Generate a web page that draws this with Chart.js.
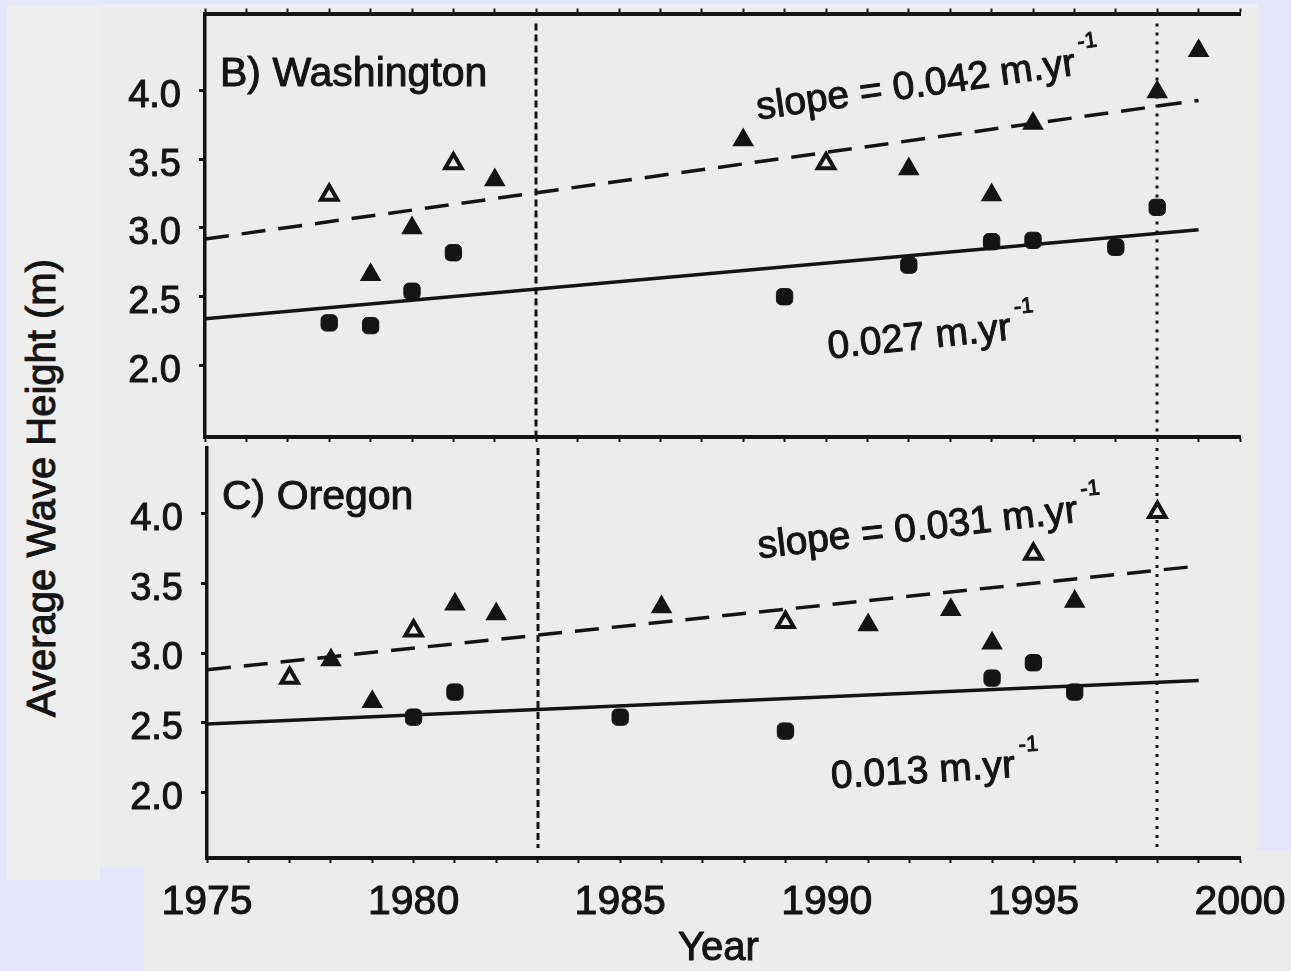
<!DOCTYPE html>
<html>
<head>
<meta charset="utf-8">
<title>Average Wave Height – Washington and Oregon</title>
<script src="https://cdn.jsdelivr.net/npm/chart.js@4.4.1/dist/chart.umd.min.js"></script>
<style>
  html, body { margin: 0; padding: 0; }
  body { width: 1291px; height: 971px; position: relative; overflow: hidden; background: #e6e6fa; }
  .sheet { position: absolute; background: #ececec; }
  .stage { position: absolute; left: 0; top: 0; }
  #ytitle {
    position: absolute; left: 41px; top: 488px;
    transform: translate(-50%, -50%) rotate(-90deg);
    font: 40px "Liberation Sans", Arial, Helvetica, sans-serif;
    -webkit-text-stroke: 1px #141414;
    color: #141414; white-space: nowrap;
  }
</style>
</head>
<body>
<div class="sheet" style="left:7px;top:5px;width:93px;height:875px;background:#eeeeee"></div>
<div class="sheet" style="left:100px;top:4px;width:1158px;height:863px"></div>
<div class="sheet" style="left:144px;top:850px;width:1147px;height:121px"></div>
<div id="ytitle">Average Wave Height (m)</div>
<canvas id="washington" class="stage" width="1291" height="971"></canvas>
<canvas id="oregon" class="stage" width="1291" height="971"></canvas>
<script>
// ---- shared axes ----
const yearTicks = [1975, 1980, 1985, 1990, 1995, 2000];
const heightTicks = [2.0, 2.5, 3.0, 3.5, 4.0];
const refYears = [1983, 1998];
const trendYears = [1975, 1999];

// ---- B) Washington ----
const waFilledYears   = [1979, 1980, 1982, 1988, 1992, 1994, 1995, 1998, 1999];
const waFilledHeights = [2.66, 3.00, 3.35, 3.64, 3.43, 3.24, 3.76, 3.99, 4.29];
const waOpenYears     = [1978, 1981, 1990];
const waOpenHeights   = [3.24, 3.47, 3.47];
const waSquareYears   = [1978, 1979, 1980, 1981, 1989, 1992, 1994, 1995, 1997, 1998];
const waSquareHeights = [2.31, 2.29, 2.54, 2.82, 2.50, 2.73, 2.90, 2.91, 2.86, 3.15];
const waUpperStart = 2.92, waUpperSlope = 0.042;
const waLowerStart = 2.34, waLowerSlope = 0.027;
const waNoteYears   = [1988.36, 1990.07];
const waNoteHeights = [3.79, 2.05];

// ---- C) Oregon ----
const orFilledYears   = [1978, 1979, 1981, 1982, 1986, 1991, 1993, 1994, 1996];
const orFilledHeights = [2.95, 2.65, 3.35, 3.28, 3.33, 3.20, 3.31, 3.07, 3.37];
const orOpenYears     = [1977, 1980, 1989, 1995, 1998];
const orOpenHeights   = [2.82, 3.16, 3.22, 3.71, 4.01];
const orSquareYears   = [1980, 1981, 1985, 1989, 1994, 1995, 1996];
const orSquareHeights = [2.54, 2.72, 2.54, 2.44, 2.82, 2.93, 2.72];
const orUpperStart = 2.88, orUpperSlope = 0.031;
const orLowerStart = 2.49, orLowerSlope = 0.013;
const orNoteYears   = [1988.36, 1990.12];
const orNoteHeights = [3.68, 2.03];

// ---- drawing helpers ----
const INK = '#141414';
const PAPER = '#ececec';
const FONT = '"Liberation Sans", Arial, Helvetica, sans-serif';

const pts = (xs, ys) => xs.map((x, i) => ({ x, y: ys[i] }));
const trend = (start, slope) => trendYears.map(yr => ({ x: yr, y: start + slope * (yr - trendYears[0]) }));
const slopeText = s => s.toFixed(3) + ' m.yr';

function inkText(ctx, str, x, y) {
  ctx.strokeText(str, x, y);
  ctx.fillText(str, x, y);
}

// Reference years, panel caption, slope notes and axis title
const panelDecor = {
  id: 'panelDecor',
  beforeDatasetsDraw(chart, args, opts) {
    const { ctx, chartArea } = chart;
    const xs = chart.scales.x;
    const dashes = [[7, 4], [3, 6]];
    ctx.save();
    ctx.strokeStyle = INK;
    ctx.lineWidth = 3;
    refYears.forEach((yr, i) => {
      const px = Math.round(xs.getPixelForValue(yr));
      ctx.setLineDash(dashes[i]);
      ctx.beginPath();
      ctx.moveTo(px, chartArea.top + opts.gapTop);
      ctx.lineTo(px, chartArea.bottom - opts.gapBottom);
      ctx.stroke();
    });
    ctx.restore();
  },
  afterDatasetsDraw(chart, args, opts) {
    const { ctx, chartArea } = chart;
    const xs = chart.scales.x, ys = chart.scales.y;
    ctx.save();
    ctx.fillStyle = INK;
    ctx.strokeStyle = INK;
    ctx.lineWidth = 1;
    ctx.lineJoin = 'round';
    ctx.textAlign = 'left';
    ctx.textBaseline = 'alphabetic';
    ctx.font = `41px ${FONT}`;
    inkText(ctx, opts.caption, chartArea.left + 15, chartArea.top + opts.captionDrop);
    opts.notes.forEach(n => {
      ctx.save();
      ctx.translate(xs.getPixelForValue(n.year), ys.getPixelForValue(n.value));
      ctx.rotate(n.angle * Math.PI / 180);
      ctx.font = `39px ${FONT}`;
      inkText(ctx, n.text, 0, 0);
      const w = ctx.measureText(n.text).width;
      ctx.font = `22px ${FONT}`;
      inkText(ctx, '-1', w + 5, -25);
      ctx.restore();
    });
    if (opts.xTitle) {
      ctx.textAlign = 'center';
      ctx.font = `40px ${FONT}`;
      inkText(ctx, opts.xTitle, (chartArea.left + chartArea.right) / 2 - 5, 960);
    }
    ctx.restore();
  }
};

function markerSets(filledX, filledY, openX, openY, sqX, sqY, upS, upK, loS, loK) {
  return [
    { label: 'lower', data: pts(sqX, sqY), pointStyle: 'rectRounded', pointRadius: 9.5,
      backgroundColor: INK, borderColor: INK, borderWidth: 1 },
    { label: 'upper open', data: pts(openX, openY), pointStyle: 'triangle', pointRadius: 9.5,
      backgroundColor: PAPER, borderColor: INK, borderWidth: 4 },
    { label: 'upper', data: pts(filledX, filledY), pointStyle: 'triangle', pointRadius: 10.5,
      backgroundColor: INK, borderColor: INK, borderWidth: 2 },
    { label: 'lower trend', data: trend(loS, loK), showLine: true, pointRadius: 0,
      borderColor: INK, borderWidth: 3.5 },
    { label: 'upper trend', data: trend(upS, upK), showLine: true, pointRadius: 0,
      borderColor: INK, borderWidth: 3.5, borderDash: [24, 13] }
  ];
}

function yAxis(min, max, width) {
  return {
    type: 'linear', position: 'left', min, max,
    afterBuildTicks: s => { s.ticks = heightTicks.map(v => ({ value: v })); },
    afterFit: s => { s.width = width; s.paddingTop = 0; s.paddingBottom = 0; },
    ticks: { callback: v => Number(v).toFixed(1), color: INK, padding: 18, labelOffset: 6,
             textStrokeColor: INK, textStrokeWidth: 1,
             font: { family: FONT, size: 38 } },
    grid: { drawOnChartArea: false, drawTicks: true, tickLength: 6, tickWidth: 3, tickColor: INK },
    border: { display: true, width: 3.5, color: INK }
  };
}

// Horizontal axes keep the plot edges fixed: no extra room for label overhang
const fixHeight = h => s => { s.height = h; s.paddingLeft = 0; s.paddingRight = 0; };

const xBase = {
  type: 'linear', min: 1975, max: 2000,
  grid: { drawOnChartArea: false, drawTicks: true, tickLength: 5, tickWidth: 2, tickColor: INK },
  border: { display: true, width: 4, color: INK }
};

const common = {
  responsive: false, animation: false, events: [],
  plugins: { legend: { display: false }, tooltip: { enabled: false } }
};

// Upper panel: Washington
new Chart(document.getElementById('washington'), {
  type: 'scatter',
  data: { datasets: markerSets(waFilledYears, waFilledHeights, waOpenYears, waOpenHeights,
                               waSquareYears, waSquareHeights,
                               waUpperStart, waUpperSlope, waLowerStart, waLowerSlope) },
  options: {
    ...common,
    layout: { padding: { top: 7, right: 51, bottom: 0, left: 0 } },
    plugins: {
      ...common.plugins,
      panelDecor: {
        caption: 'B) Washington', captionDrop: 72, gapTop: 10, gapBottom: 0,
        notes: [
          { text: 'slope = ' + slopeText(waUpperSlope), year: waNoteYears[0], value: waNoteHeights[0], angle: -8 },
          { text: slopeText(waLowerSlope), year: waNoteYears[1], value: waNoteHeights[1], angle: -6 }
        ]
      }
    },
    scales: {
      x: { ...xBase, position: 'bottom', afterFit: fixHeight(971 - 437),
           ticks: { stepSize: 1, display: false } },
      xTop: { ...xBase, position: 'top', afterFit: fixHeight(0),
              ticks: { stepSize: 1, display: false } },
      y: yAxis(1.48, 4.56, 205)
    }
  },
  plugins: [panelDecor]
});

// Lower panel: Oregon
new Chart(document.getElementById('oregon'), {
  type: 'scatter',
  data: { datasets: markerSets(orFilledYears, orFilledHeights, orOpenYears, orOpenHeights,
                               orSquareYears, orSquareHeights,
                               orUpperStart, orUpperSlope, orLowerStart, orLowerSlope) },
  options: {
    ...common,
    layout: { padding: { top: 448, right: 51, bottom: 0, left: 0 } },
    plugins: {
      ...common.plugins,
      panelDecor: {
        caption: 'C) Oregon', captionDrop: 61, gapTop: 0, gapBottom: 10, xTitle: 'Year',
        notes: [
          { text: 'slope = ' + slopeText(orUpperSlope), year: orNoteYears[0], value: orNoteHeights[0], angle: -6.5 },
          { text: slopeText(orLowerSlope), year: orNoteYears[1], value: orNoteHeights[1], angle: -3.5 }
        ]
      }
    },
    scales: {
      x: { ...xBase, position: 'bottom', afterFit: fixHeight(971 - 858),
           ticks: { stepSize: 1, autoSkip: false, maxRotation: 0, minRotation: 0, padding: 15,
                    color: INK, textStrokeColor: INK, textStrokeWidth: 1,
                    font: { family: FONT, size: 41 },
                    callback: v => (yearTicks.includes(v) ? String(v) : '') } },
      y: yAxis(1.53, 4.47, 207)
    }
  },
  plugins: [panelDecor]
});
</script>
</body>
</html>
